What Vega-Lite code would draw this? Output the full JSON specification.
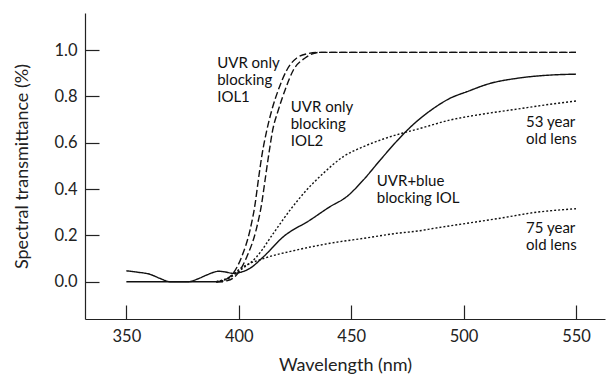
{
  "$schema": "https://vega.github.io/schema/vega-lite/v6.json",
  "width": 520,
  "height": 306,
  "autosize": {"type": "none"},
  "padding": {"left": 85, "top": 13, "right": 2, "bottom": 56},
  "background": "white",
  "config": {
    "font": "Lato",
    "view": {"stroke": null},
    "axis": {"grid": false, "domainColor": "#222", "tickColor": "#222", "labelColor": "#222", "titleColor": "#222", "labelFont": "Lato", "titleFont": "Lato", "labelFontSize": 16.5, "titleFontSize": 18, "titleFontWeight": "normal", "domainWidth": 1.2, "tickWidth": 1.2}
  },
  "datasets": {
    "curves": [
      {"series": "baseline", "wl": 350, "t": 0},
      {"series": "baseline", "wl": 393, "t": 0},
      {"series": "IOL1", "wl": 390, "t": 0},
      {"series": "IOL1", "wl": 393, "t": 0.005},
      {"series": "IOL1", "wl": 397, "t": 0.03},
      {"series": "IOL1", "wl": 401.3, "t": 0.108},
      {"series": "IOL1", "wl": 405, "t": 0.223},
      {"series": "IOL1", "wl": 407.3, "t": 0.338},
      {"series": "IOL1", "wl": 408.7, "t": 0.439},
      {"series": "IOL1", "wl": 410.2, "t": 0.54},
      {"series": "IOL1", "wl": 412.5, "t": 0.655},
      {"series": "IOL1", "wl": 414.7, "t": 0.741},
      {"series": "IOL1", "wl": 417.6, "t": 0.828},
      {"series": "IOL1", "wl": 421.4, "t": 0.914},
      {"series": "IOL1", "wl": 425.8, "t": 0.966},
      {"series": "IOL1", "wl": 431, "t": 0.985},
      {"series": "IOL1", "wl": 436, "t": 0.99},
      {"series": "IOL1", "wl": 550, "t": 0.99},
      {"series": "IOL2", "wl": 390, "t": 0},
      {"series": "IOL2", "wl": 395, "t": 0.005},
      {"series": "IOL2", "wl": 399.5, "t": 0.035},
      {"series": "IOL2", "wl": 403.6, "t": 0.108},
      {"series": "IOL2", "wl": 407.7, "t": 0.223},
      {"series": "IOL2", "wl": 410.2, "t": 0.338},
      {"series": "IOL2", "wl": 411.7, "t": 0.439},
      {"series": "IOL2", "wl": 413.2, "t": 0.54},
      {"series": "IOL2", "wl": 415.1, "t": 0.655},
      {"series": "IOL2", "wl": 417.6, "t": 0.741},
      {"series": "IOL2", "wl": 420.6, "t": 0.828},
      {"series": "IOL2", "wl": 424.3, "t": 0.914},
      {"series": "IOL2", "wl": 429.5, "t": 0.966},
      {"series": "IOL2", "wl": 436, "t": 0.99},
      {"series": "IOL2", "wl": 550, "t": 0.99},
      {"series": "UVR+blue", "wl": 350, "t": 0.047},
      {"series": "UVR+blue", "wl": 355, "t": 0.041},
      {"series": "UVR+blue", "wl": 360.5, "t": 0.032},
      {"series": "UVR+blue", "wl": 365, "t": 0.014},
      {"series": "UVR+blue", "wl": 369.4, "t": 0},
      {"series": "UVR+blue", "wl": 377.6, "t": 0},
      {"series": "UVR+blue", "wl": 382, "t": 0.013},
      {"series": "UVR+blue", "wl": 386, "t": 0.03},
      {"series": "UVR+blue", "wl": 391, "t": 0.045},
      {"series": "UVR+blue", "wl": 394, "t": 0.042},
      {"series": "UVR+blue", "wl": 397.6, "t": 0.036},
      {"series": "UVR+blue", "wl": 400.5, "t": 0.04},
      {"series": "UVR+blue", "wl": 405, "t": 0.058},
      {"series": "UVR+blue", "wl": 411, "t": 0.108},
      {"series": "UVR+blue", "wl": 419.8, "t": 0.194},
      {"series": "UVR+blue", "wl": 431.7, "t": 0.266},
      {"series": "UVR+blue", "wl": 440.6, "t": 0.324},
      {"series": "UVR+blue", "wl": 448, "t": 0.367},
      {"series": "UVR+blue", "wl": 455.4, "t": 0.439},
      {"series": "UVR+blue", "wl": 462.9, "t": 0.525},
      {"series": "UVR+blue", "wl": 470.3, "t": 0.607},
      {"series": "UVR+blue", "wl": 476.2, "t": 0.666},
      {"series": "UVR+blue", "wl": 486.6, "t": 0.748},
      {"series": "UVR+blue", "wl": 494, "t": 0.792},
      {"series": "UVR+blue", "wl": 501.4, "t": 0.82},
      {"series": "UVR+blue", "wl": 511.8, "t": 0.856},
      {"series": "UVR+blue", "wl": 523.7, "t": 0.878},
      {"series": "UVR+blue", "wl": 538.5, "t": 0.892},
      {"series": "UVR+blue", "wl": 550, "t": 0.896},
      {"series": "53 year", "wl": 390, "t": 0},
      {"series": "53 year", "wl": 395, "t": 0.012},
      {"series": "53 year", "wl": 400.7, "t": 0.05},
      {"series": "53 year", "wl": 408, "t": 0.108},
      {"series": "53 year", "wl": 415.4, "t": 0.209},
      {"series": "53 year", "wl": 422.8, "t": 0.309},
      {"series": "53 year", "wl": 430.2, "t": 0.396},
      {"series": "53 year", "wl": 437.6, "t": 0.468},
      {"series": "53 year", "wl": 446.5, "t": 0.54},
      {"series": "53 year", "wl": 455.4, "t": 0.583},
      {"series": "53 year", "wl": 464.3, "t": 0.616},
      {"series": "53 year", "wl": 473, "t": 0.642},
      {"series": "53 year", "wl": 480, "t": 0.66},
      {"series": "53 year", "wl": 494, "t": 0.698},
      {"series": "53 year", "wl": 508.8, "t": 0.724},
      {"series": "53 year", "wl": 523.7, "t": 0.745},
      {"series": "53 year", "wl": 538.5, "t": 0.766},
      {"series": "53 year", "wl": 550, "t": 0.78},
      {"series": "75 year", "wl": 390, "t": 0},
      {"series": "75 year", "wl": 395, "t": 0.015},
      {"series": "75 year", "wl": 402, "t": 0.065},
      {"series": "75 year", "wl": 411, "t": 0.1},
      {"series": "75 year", "wl": 425.8, "t": 0.137},
      {"series": "75 year", "wl": 440.6, "t": 0.166},
      {"series": "75 year", "wl": 455.4, "t": 0.187},
      {"series": "75 year", "wl": 470.3, "t": 0.209},
      {"series": "75 year", "wl": 480.6, "t": 0.22},
      {"series": "75 year", "wl": 486.6, "t": 0.23},
      {"series": "75 year", "wl": 501.4, "t": 0.252},
      {"series": "75 year", "wl": 516.2, "t": 0.274},
      {"series": "75 year", "wl": 531, "t": 0.298},
      {"series": "75 year", "wl": 550, "t": 0.315}
    ],
    "labels": [
      {"wl": 390.4, "t": 0.945, "label": ["UVR only", "blocking", "IOL1"]},
      {"wl": 423.1, "t": 0.753, "label": ["UVR only", "blocking", "IOL2"]},
      {"wl": 461.4, "t": 0.436, "label": ["UVR+blue", "blocking IOL"]},
      {"wl": 527.8, "t": 0.69, "label": ["53 year", "old lens"]},
      {"wl": 527.8, "t": 0.23, "label": ["75 year", "old lens"]}
    ]
  },
  "layer": [
    {
      "data": {"name": "curves"},
      "mark": {"type": "line", "interpolate": "monotone", "color": "#111", "strokeWidth": 1.4},
      "encoding": {
        "x": {"field": "wl", "type": "quantitative", "scale": {"domain": [331.6, 562.9], "nice": false, "zero": false},
          "axis": {"values": [350, 400, 450, 500, 550], "title": "Wavelength (nm)", "tickSize": -14, "labelPadding": 23, "titlePadding": 12}},
        "y": {"field": "t", "type": "quantitative", "scale": {"domain": [-0.161, 1.16], "nice": false, "zero": false},
          "axis": {"values": [0, 0.2, 0.4, 0.6, 0.8, 1.0], "format": ".1f", "title": "Spectral transmittance (%)", "tickSize": -14, "labelPadding": 22, "titlePadding": 22}},
        "detail": {"field": "series"},
        "strokeDash": {"field": "series", "type": "nominal", "legend": null,
          "scale": {"domain": ["baseline", "IOL1", "IOL2", "UVR+blue", "53 year", "75 year"],
            "range": [[1, 0], [7, 3], [7, 3], [1, 0], [2, 2], [2, 2]]}}
      }
    },
    {
      "data": {"name": "labels"},
      "mark": {"type": "text", "align": "left", "baseline": "middle", "fontSize": 15, "lineHeight": 17, "color": "#111", "font": "Lato"},
      "encoding": {
        "x": {"field": "wl", "type": "quantitative"},
        "y": {"field": "t", "type": "quantitative"},
        "text": {"field": "label"}
      }
    }
  ]
}
